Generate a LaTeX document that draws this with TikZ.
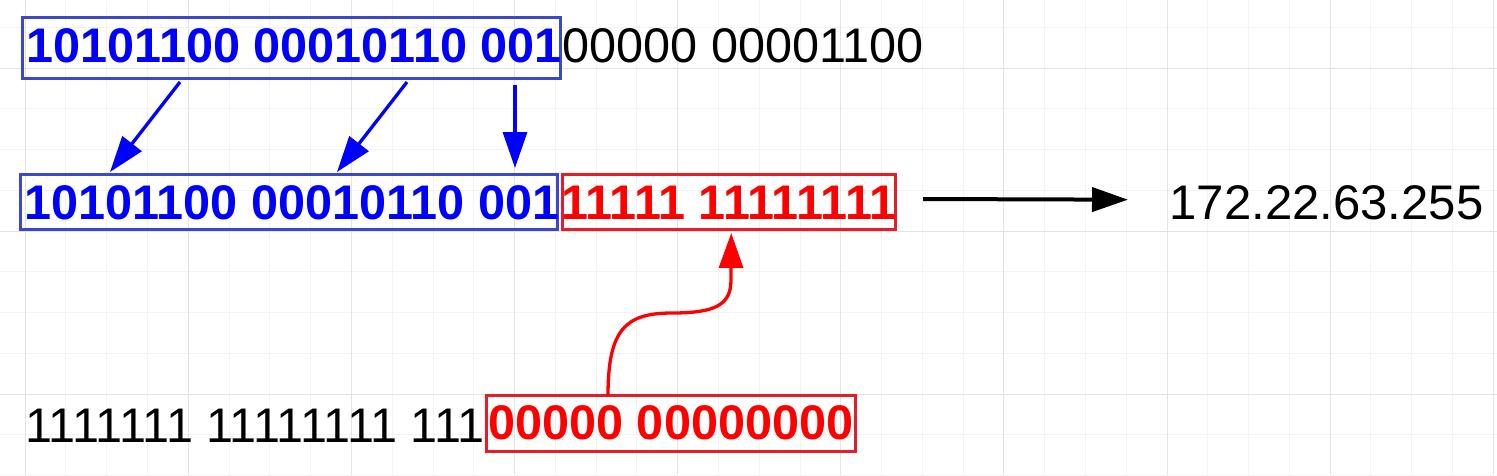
\documentclass[tikz,border=0pt]{standalone}
\usepackage{fontspec}
\setmainfont{Liberation Sans}
\usepackage{graphicx}
\usetikzlibrary{arrows.meta}
\definecolor{tblue}{RGB}{0,0,255}
\definecolor{bblue}{RGB}{60,72,204}
\definecolor{tred}{RGB}{255,0,0}
\definecolor{bred}{RGB}{232,28,36}
\definecolor{gridminor}{RGB}{243,243,243}
\definecolor{gridmajor}{RGB}{227,227,227}
\newcommand{\bigfont}{\fontsize{48.6}{58}\selectfont}
\newcommand{\ctext}[2]{\makebox[0pt]{\hspace{#1}#2}}
\tikzset{
  gmin/.style={draw=gridminor, line width=1pt},
  gmaj/.style={draw=gridmajor, line width=1pt},
  boxbase/.style={line width=3pt, inner sep=0pt, outer sep=0pt, font=\bigfont\bfseries, text height=34.8pt},
  bluebox/.style={boxbase, draw=bblue, text=tblue},
  redbox/.style={boxbase, draw=bred, text=tred},
  plaintext/.style={inner sep=0pt, outer sep=0pt, font=\bigfont, text=black, anchor=base west},
  bluearrow/.style={draw=tblue, line width=3.3pt, -{Triangle[length=36pt,width=24pt]}},
  blackarrow/.style={draw=black, line width=4pt, -{Triangle[length=36pt,width=24pt]}},
  redarrow/.style={draw=tred, line width=3.3pt, -{Triangle[length=35pt,width=24pt]}}
}
\begin{document}
\begin{tikzpicture}[x=1pt,y=-1pt]
\useasboundingbox (0,0) rectangle (1497,475);
\fill[white] (0,0) rectangle (1497,475);
% grid
\foreach \i in {0,...,36} {\draw[gmin] ({25.2+40.78*\i},0) -- ({25.2+40.78*\i},475);}
\foreach \j in {0,...,11} {\draw[gmin] (0,{27.25+40.75*\j}) -- (1497,{27.25+40.75*\j});}
\foreach \i in {0,...,9} {\draw[gmaj] ({25.2+163.12*\i},0) -- ({25.2+163.12*\i},475);}
\foreach \j in {0,...,2} {\draw[gmaj] (0,{68+163*\j}) -- (1497,{68+163*\j});}

% boxes
\node[bluebox, minimum width=538pt, minimum height=61pt, text depth=5.8pt] (b1) at (291.5,48)
  {\ctext{5.5pt}{10101100 00010110 001}};
\node[bluebox, minimum width=537pt, minimum height=55pt, text depth=0.8pt] (b2) at (289,202)
  {\ctext{5.5pt}{10101100 00010110 001}};
\node[redbox, minimum width=332.5pt, minimum height=55.5pt, text depth=0.3pt] (r1) at (728.75,201.75)
  {\ctext{0pt}{11111 11111111}};
\node[redbox, minimum width=368.7pt, minimum height=56.3pt, text depth=3.1pt] (r2) at (670.85,423.65)
  {\ctext{0pt}{00000 00000000}};

% plain texts
\node[plaintext] (t1) at (562.6,62.5) {00000 00001100};
\node[plaintext] (ip) at (1169.5,219) {\scalebox{1.01}[1]{172.22.63.255}};
\node[plaintext] (t2) at (25.5,442) {1111111 11111111 111};

% arrows
\draw[bluearrow] ([shift={(157.5,3.5)}]b1.south west) -- ([shift={(89.5,-2.5)}]b2.north west);
\draw[bluearrow] ([shift={(384.5,3.5)}]b1.south west) -- ([shift={(316.5,-2.5)}]b2.north west);
\draw[bluearrow] ([shift={(492.5,6.5)}]b1.south west) -- ([shift={(494.5,-6.5)}]b2.north west);
\draw[blackarrow] ([shift={(28,-2.75)}]r1.east) -- ([shift={(-41.5,-2.6)}]ip.west);
\draw[redarrow] ([shift={(-62.85,0)}]r2.north) .. controls (608,330) and (625,313) .. (672,313)
  .. controls (715,313) and (731,305) .. (731,280) -- ([shift={(2.5,3.5)}]r1.south);
\end{tikzpicture}
\end{document}
